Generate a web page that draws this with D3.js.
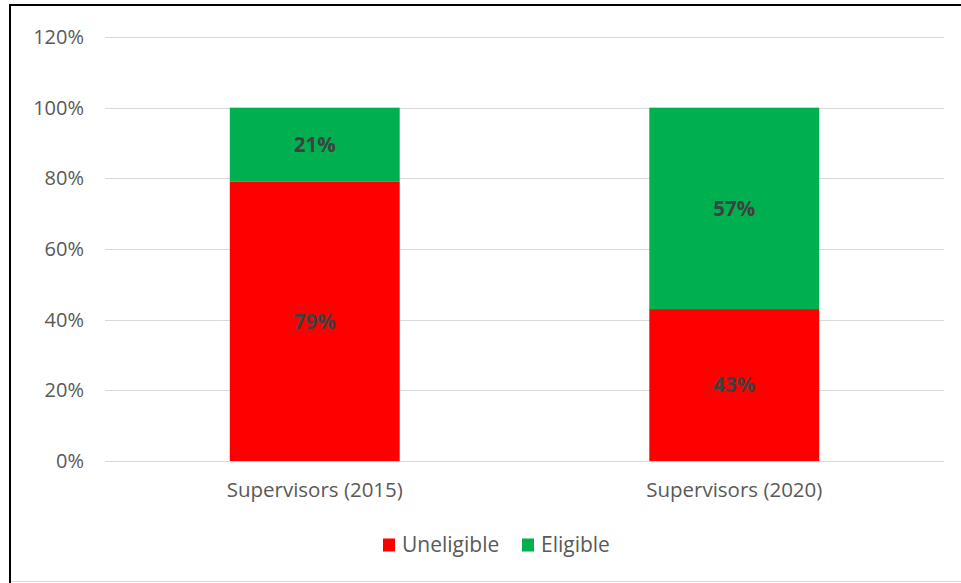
<!DOCTYPE html>
<html>
<head>
<meta charset="utf-8">
<script src="https://cdn.jsdelivr.net/npm/d3@7"></script>
<style>
  body { margin: 0; background: #fff; }
  text { font-family: "Open Sans", "Noto Sans", sans-serif; }
</style>
</head>
<body>
<div id="chart"></div>
<script>
var svgWidth = 961;
var svgHeight = 583;

// chart data
var categories = ["Supervisors (2015)", "Supervisors (2020)"];
var seriesNames = ["Uneligible", "Eligible"];
var uneligible = [79, 43];
var eligible = [21, 57];
var yTicks = [0, 20, 40, 60, 80, 100, 120];
var seriesColors = ["#ff0000", "#00b050"];

var margin = { top: 37, right: 17, bottom: 122, left: 105 };
var width = svgWidth - margin.left - margin.right;
var height = svgHeight - margin.top - margin.bottom;

var svg = d3.select("#chart")
  .append("svg")
  .attr("width", svgWidth)
  .attr("height", svgHeight);

// outer frame (black left/top, light bottom)
svg.append("line").attr("x1", 10).attr("x2", 10).attr("y1", 5).attr("y2", 583)
  .attr("stroke", "#000").attr("stroke-width", 2);
svg.append("line").attr("x1", 9).attr("x2", 961).attr("y1", 5).attr("y2", 5)
  .attr("stroke", "#000").attr("stroke-width", 2);
svg.append("line").attr("x1", 11).attr("x2", 961).attr("y1", 581.5).attr("y2", 581.5)
  .attr("stroke", "#d9d9d9").attr("stroke-width", 1);

var chartGroup = svg.append("g")
  .attr("transform", `translate(${margin.left}, ${margin.top})`);

var xScale = d3.scaleBand()
  .domain(categories)
  .range([0, width])
  .paddingInner(0.595)
  .paddingOuter(0.2975);

var yScale = d3.scaleLinear()
  .domain([0, 120])
  .range([height, 0]);

// gridlines
chartGroup.append("g")
  .selectAll("line")
  .data(yTicks)
  .enter()
  .append("line")
  .attr("x1", 0)
  .attr("x2", width)
  .attr("y1", d => Math.round(yScale(d)) + 0.5)
  .attr("y2", d => Math.round(yScale(d)) + 0.5)
  .attr("stroke", "#d9d9d9")
  .attr("stroke-width", 1);

// y axis labels
var leftAxis = d3.axisLeft(yScale)
  .tickValues(yTicks)
  .tickFormat(d => d + "%")
  .tickSize(0)
  .tickPadding(21);
var yAxis = chartGroup.append("g").call(leftAxis);
yAxis.select(".domain").remove();
yAxis.selectAll("text")
  .attr("fill", "#595959")
  .style("font-size", "20px");

// x axis labels
var bottomAxis = d3.axisBottom(xScale).tickSize(0).tickPadding(21);
var xAxis = chartGroup.append("g")
  .attr("transform", `translate(0, ${height})`)
  .call(bottomAxis);
xAxis.select(".domain").remove();
xAxis.selectAll("text")
  .attr("fill", "#595959")
  .style("font-size", "20.5px");

// stacked bars
var rows = categories.map((c, i) => ({ category: c, Uneligible: uneligible[i], Eligible: eligible[i] }));
var stacked = d3.stack().keys(seriesNames)(rows);

var layers = chartGroup.selectAll(".layer")
  .data(stacked)
  .enter()
  .append("g")
  .attr("fill", (d, i) => seriesColors[i]);

layers.selectAll("rect")
  .data(d => d)
  .enter()
  .append("rect")
  .attr("x", d => xScale(d.data.category))
  .attr("y", d => yScale(d[1]))
  .attr("width", xScale.bandwidth())
  .attr("height", d => yScale(d[0]) - yScale(d[1]));

// data labels
layers.selectAll("text")
  .data(d => d)
  .enter()
  .append("text")
  .attr("x", d => xScale(d.data.category) + xScale.bandwidth() / 2)
  .attr("y", d => yScale((d[0] + d[1]) / 2))
  .attr("dy", "0.35em")
  .attr("text-anchor", "middle")
  .attr("fill", "#404040")
  .style("font-size", "20.5px")
  .style("font-weight", "bold")
  .text(d => (d[1] - d[0]) + "%");

// legend
var legend = svg.append("g").attr("transform", "translate(383, 545)");
var legendX = [0, 139];
seriesNames.forEach(function(name, i) {
  var item = legend.append("g").attr("transform", `translate(${legendX[i]}, 0)`);
  item.append("rect")
    .attr("x", 0).attr("y", -6.5)
    .attr("width", 12).attr("height", 13)
    .attr("fill", seriesColors[i]);
  item.append("text")
    .attr("x", 19).attr("y", 0)
    .attr("dy", "0.35em")
    .attr("fill", "#595959")
    .style("font-size", "21px")
    .text(name);
});
</script>
</body>
</html>
